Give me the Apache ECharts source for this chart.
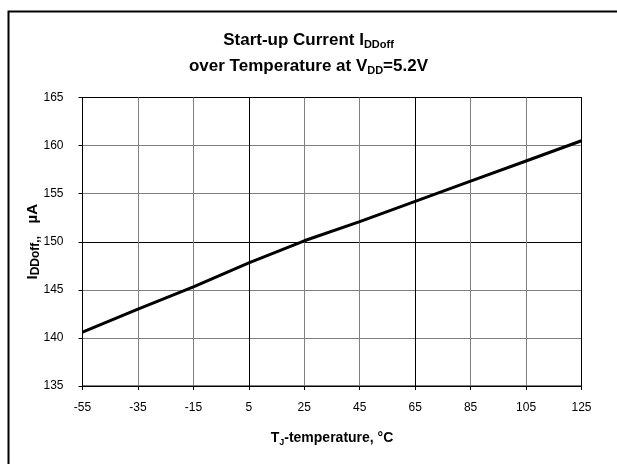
<!DOCTYPE html>
<html>
<head>
<meta charset="utf-8">
<script src="https://cdn.jsdelivr.net/npm/echarts@6/dist/echarts.min.js"></script>
<style>html,body{margin:0;padding:0;background:#fff}#c{width:617px;height:464px}</style>
</head>
<body>
<div id="c"></div>
<script>
const temps = [-55, -35, -15, 5, 25, 45, 65, 85, 105, 125];
const current = [140.6, 143.0, 145.3, 147.8, 150.1, 152.1, 154.2, 156.3, 158.4, 160.5];
const xTicks = [-55, -35, -15, 5, 25, 45, 65, 85, 105, 125];
const yTicks = [135, 140, 145, 150, 155, 160, 165];

const G = '#808080', K = '#000';
const font = 'Liberation Sans, Arial, sans-serif';
const tickFont = '"Liberation Sans Narrow", "Arial Narrow", Liberation Sans, Arial, sans-serif';
const titleRich = {
  a: {fontFamily: font, fontWeight: 'bold', fontSize: 17, color: '#000', lineHeight: 22},
  s: {fontFamily: font, fontWeight: 'bold', fontSize: 11, color: '#000', padding: [10, 0, 0, 0], lineHeight: 22}
};
const chart = echarts.init(document.getElementById('c'), null, {renderer: 'canvas'});
chart.setOption({
  animation: false,
  backgroundColor: '#fff',
  graphic: [{
    type: 'rect', left: 6, top: 9, shape: {width: 640, height: 480},
    style: {fill: 'none', stroke: '#000', lineWidth: 2}, z: 100, silent: true
  }],
  title: [{
    left: 'center', top: 24,
    text: '{a|Start-up Current I}{s|DDoff}',
    textStyle: {rich: titleRich}
  }, {
    left: 'center', top: 50,
    text: '{a|over Temperature at V}{s|DD}{a|=5.2V}',
    textStyle: {rich: titleRich}
  }],
  grid: {left: 82.5, right: 35.5, top: 97.5, bottom: 78, show: true, borderColor: '#000', borderWidth: 1, backgroundColor: 'transparent', outerBoundsMode: 'none'},
  xAxis: {
    type: 'value', min: xTicks[0], max: xTicks[xTicks.length - 1], interval: 20,
    name: '{a|T}{s|J}{a|-temperature, °C}', nameLocation: 'middle', nameGap: 44, nameMoveOverlap: false,
    nameTextStyle: {rich: {
      a: {fontFamily: font, fontWeight: 'bold', fontSize: 14, color: '#000'},
      s: {fontFamily: font, fontWeight: 'bold', fontSize: 9, color: '#000', padding: [8, 0, 0, 0]}
    }},
    axisLine: {show: true, onZero: false, lineStyle: {color: '#000', width: 1}},
    axisTick: {show: true, inside: false, length: 4, lineStyle: {color: '#000'}},
    axisLabel: {color: '#000', fontFamily: tickFont, fontSize: 12, margin: 16},
    splitLine: {show: true, lineStyle: {color: [G, G, G, K, G, G, K, G, G, K], width: 1}}
  },
  yAxis: {
    type: 'value', min: yTicks[0], max: yTicks[yTicks.length - 1], interval: 5,
    name: '{a|I}{s|DDoff,,}{a|   µA}', nameLocation: 'middle', nameGap: 41, nameRotate: 90, nameMoveOverlap: false,
    nameTextStyle: {rich: {
      a: {fontFamily: font, fontWeight: 'bold', fontSize: 15, color: '#000'},
      s: {fontFamily: font, fontWeight: 'bold', fontSize: 12, color: '#000', padding: [6, 0, 0, 0]}
    }},
    axisLine: {show: true, onZero: false, lineStyle: {color: '#000', width: 1}},
    axisTick: {show: true, inside: false, length: 4, lineStyle: {color: '#000'}},
    axisLabel: {color: '#000', fontFamily: tickFont, fontSize: 12, margin: 19},
    splitLine: {show: true, lineStyle: {color: [G, G, G, K, G, G, K], width: 1}}
  },
  series: [{
    type: 'line', data: temps.map((t, i) => [t, current[i]]),
    showSymbol: false, symbol: 'none', smooth: false,
    lineStyle: {color: '#000', width: 3}
  }]
});
</script>
</body>
</html>
